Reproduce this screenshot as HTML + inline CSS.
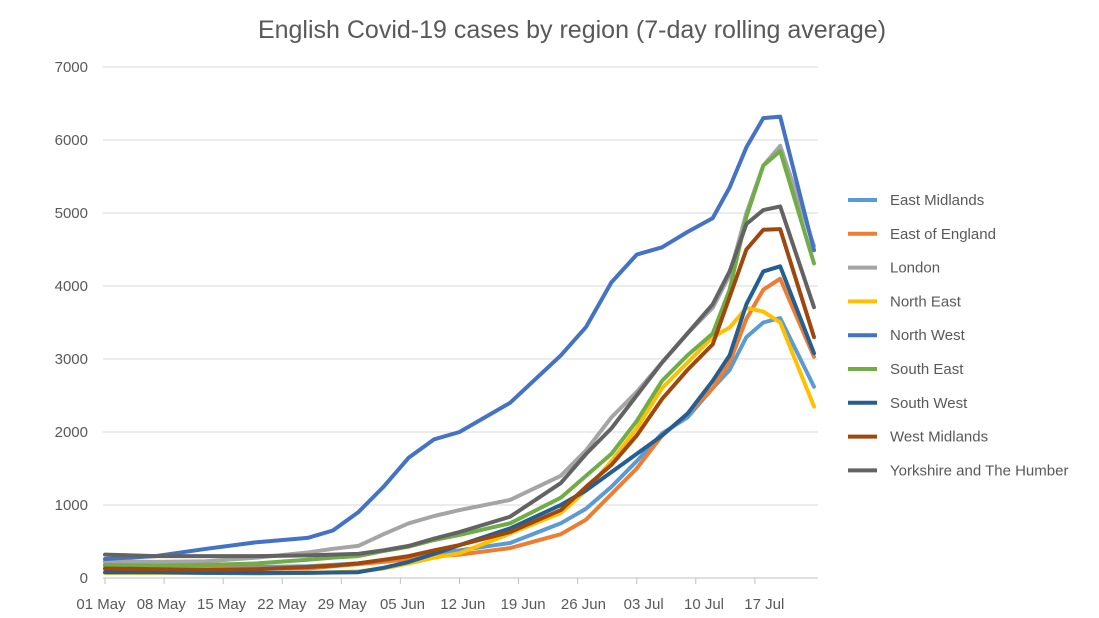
<!DOCTYPE html>
<html><head><meta charset="utf-8"><style>
body{margin:0;background:#fff;}
svg{display:block;font-family:"Liberation Sans",Arial,sans-serif;}
</style></head><body>
<svg id="chart" width="1099" height="618">
<text x="572" y="38" text-anchor="middle" font-size="25" fill="#595959">English Covid-19 cases by region (7-day rolling average)</text>
<g id="grid"></g><g id="xaxis"></g><g id="lines"></g><g id="legend"></g>
</svg>
<script>
const days = [0,6,12,18,24,27,30,33,36,39,42,48,54,57,60,63,66,69,72,74,76,78,80,84];
const regions = ["East Midlands","East of England","London","North East","North West","South East","South West","West Midlands","Yorkshire and The Humber"];
const eastMidlands = [220,180,150,150,160,180,200,240,280,330,380,480,750,950,1250,1600,1980,2200,2600,2850,3300,3500,3560,2620];
const eastOfEngland = [170,140,130,130,130,160,190,220,260,300,320,410,600,800,1150,1500,1950,2250,2600,2950,3550,3950,4100,3030];
const london = [230,220,230,280,350,400,440,600,750,850,930,1070,1400,1750,2200,2550,2950,3350,3700,4150,5000,5650,5920,4550];
const northEast = [70,70,70,60,70,80,90,130,200,280,340,610,890,1200,1600,2050,2600,2950,3300,3430,3700,3650,3500,2350];
const northWest = [260,300,400,490,550,650,900,1250,1650,1900,2000,2400,3050,3440,4050,4430,4530,4740,4930,5350,5900,6300,6320,4490];
const southEast = [180,170,180,200,250,280,300,370,430,520,590,750,1100,1400,1700,2150,2700,3050,3350,3950,4950,5650,5850,4310];
const southWest = [80,80,70,70,70,75,80,140,220,330,450,680,1000,1200,1450,1700,1950,2250,2700,3050,3750,4200,4270,3080];
const westMidlands = [130,120,110,120,150,170,200,250,300,380,450,630,930,1250,1550,1950,2450,2850,3200,3850,4500,4770,4780,3300];
const yorkshire = [320,300,300,300,310,320,330,380,440,540,630,840,1300,1700,2050,2500,2950,3350,3750,4200,4850,5040,5090,3710];
const yTicks = [0,1000,2000,3000,4000,5000,6000,7000];
const xLabels = ["01 May","08 May","15 May","22 May","29 May","05 Jun","12 Jun","19 Jun","26 Jun","03 Jul","10 Jul","17 Jul"];
const seriesData = [eastMidlands,eastOfEngland,london,northEast,northWest,southEast,southWest,westMidlands,yorkshire];
const colors = ["#5B9BD5","#ED7D31","#A5A5A5","#FFC000","#4472C4","#70AD47","#255E91","#9E480E","#636363"];
const NS="http://www.w3.org/2000/svg";
const X = d => 105 + d*8.44;
const Y = v => 578 - v*0.073;
function mk(tag, attrs, parent){const e=document.createElementNS(NS,tag);for(const k in attrs)e.setAttribute(k,attrs[k]);parent.appendChild(e);return e;}
const grid=document.getElementById('grid');
yTicks.forEach(t=>{
  const l=mk('line',{x1:103,x2:818,y1:Y(t),y2:Y(t),stroke:t===0?'#bfbfbf':'#d9d9d9','stroke-width':1},grid);
  
  
  const tx=mk('text',{x:88,y:Y(t)+5,'text-anchor':'end','font-size':15,fill:'#595959'},grid);
  tx.textContent=t;
  
  
});
const xa=document.getElementById('xaxis');
xLabels.forEach((s,i)=>{
  const tk=mk('line',{x1:X(i*7),x2:X(i*7),y1:578,y2:584,stroke:'#bfbfbf'},xa);
  
  
  const t=mk('text',{x:101+60.3*i,y:609,'text-anchor':'middle','font-size':15,fill:'#595959'},xa);
  t.textContent=s;
  
  
});
const lg=document.getElementById('lines');
seriesData.forEach((vals,i)=>{
  const pts=vals.map((v,j)=>X(days[j]).toFixed(1)+','+Y(v).toFixed(1)).join(' ');
  const p=mk('polyline',{points:pts,fill:'none',stroke:colors[i],'stroke-width':4,'stroke-linejoin':'round','stroke-linecap':'round'},lg);
  
  
});
const leg=document.getElementById('legend');
regions.forEach((r,i)=>{
  const y=200+i*33.8;
  const g=mk('g',{},leg);
  
  
  mk('line',{x1:848,x2:877,y1:y,y2:y,stroke:colors[i],'stroke-width':4},g);
  const t=mk('text',{x:890,y:y+5,'font-size':15,fill:'#595959'},g);
  t.textContent=r;
});
</script>
</body></html>
